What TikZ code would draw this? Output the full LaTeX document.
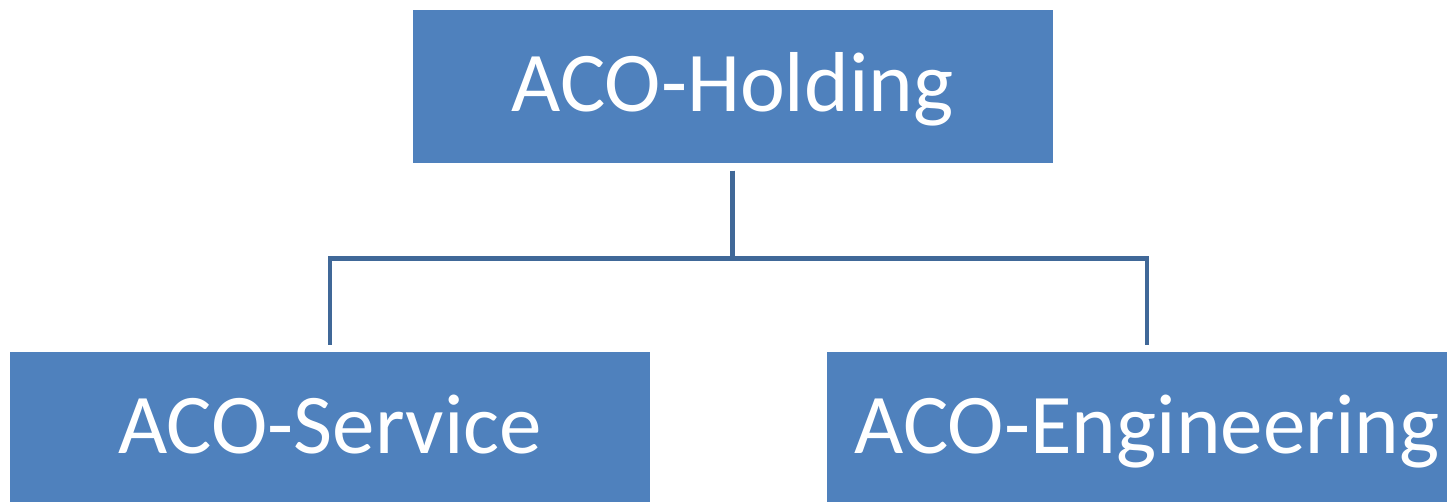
\documentclass[tikz,border=0pt]{standalone}
\usepackage{fontspec}
\setmainfont{Carlito}
\usepackage{xcolor}
\usetikzlibrary{positioning}

\definecolor{boxblue}{RGB}{79,129,189}
\definecolor{lineblue}{RGB}{64,104,152}

\begin{document}
\begin{tikzpicture}[
  company/.style={rectangle, fill=boxblue, text=white, minimum width=6.4cm, minimum height=1.53cm,
    inner sep=0pt, text height=0.6cm, text depth=0.11cm, font=\fontsize{24.2}{29}\selectfont},
  link/.style={draw=lineblue, line width=1.4pt, shorten <=0.07cm, shorten >=0.06cm}
]
\useasboundingbox (0,0) rectangle (14.47,5.01);

\node[company] (holding) at (7.325, 4.145) {ACO-Holding};
\node[company] (service) at (3.30, 0.725) {ACO-Service};
\node[company] (engineering) at (11.47, 0.725) {ACO-Engineering};

\draw [link] (holding.south) -- ++(0,-0.95) -| (service.north);
\draw [link] (holding.south) -- ++(0,-0.95) -| (engineering.north);

\end{tikzpicture}
\end{document}
